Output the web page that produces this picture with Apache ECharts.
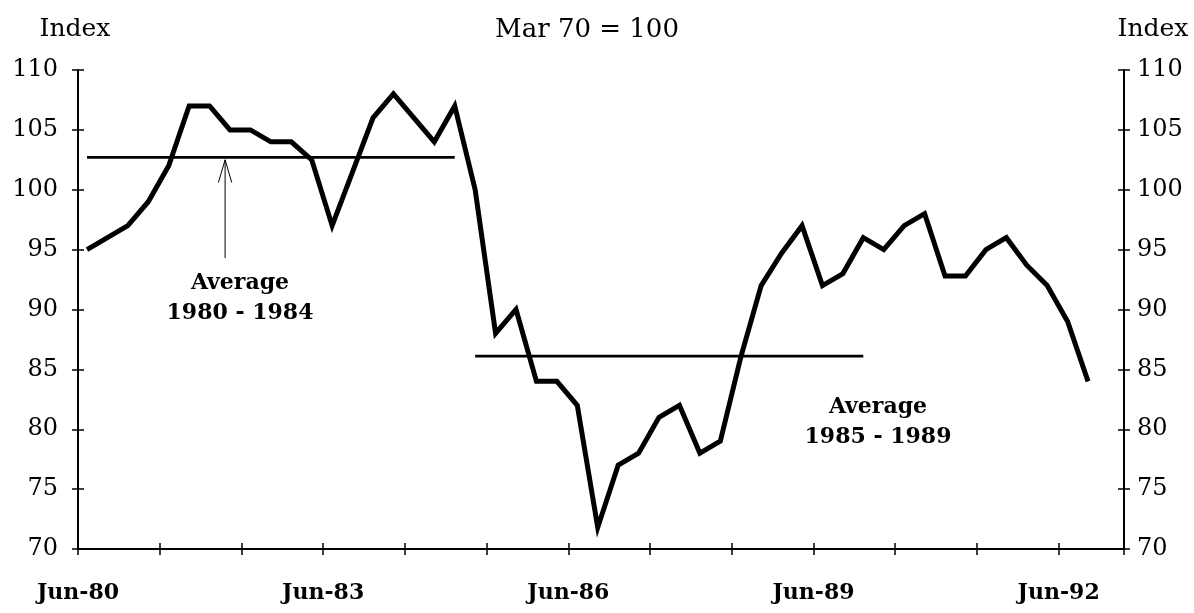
<!DOCTYPE html>
<html>
<head>
<meta charset="utf-8">
<title>Index, Mar 70 = 100</title>
<script src="https://cdn.jsdelivr.net/npm/echarts@6/dist/echarts.min.js"></script>
<style>
  html, body { margin: 0; padding: 0; background: #fff; }
  #chart { width: 1194px; height: 613px; }
</style>
</head>
<body>
<div id="chart"></div>
<script>
// quarterly index values, Jun-80 .. Sep-92
var quarters = [
  'Jun-80','Sep-80','Dec-80','Mar-81','Jun-81','Sep-81','Dec-81','Mar-82','Jun-82','Sep-82',
  'Dec-82','Mar-83','Jun-83','Sep-83','Dec-83','Mar-84','Jun-84','Sep-84','Dec-84','Mar-85',
  'Jun-85','Sep-85','Dec-85','Mar-86','Jun-86','Sep-86','Dec-86','Mar-87','Jun-87','Sep-87',
  'Dec-87','Mar-88','Jun-88','Sep-88','Dec-88','Mar-89','Jun-89','Sep-89','Dec-89','Mar-90',
  'Jun-90','Sep-90','Dec-90','Mar-91','Jun-91','Sep-91','Dec-91','Mar-92','Jun-92','Sep-92'
];
var indexValues = [
  95, 96, 97, 99, 102, 107, 107, 105, 105, 104,
  104, 102.5, 97, 101.5, 106, 108, 106, 104, 107, 100,
  88, 90, 84, 84, 82, 71.8, 77, 78, 81, 82,
  78, 79, 86, 92, 94.7, 97, 92, 93, 96, 95,
  97, 98, 92.8, 92.8, 95, 96, 93.7, 92, 89, 84
];
// yearly ticks, label every third year
var xTickLabels = ['Jun-80','','','Jun-83','','','Jun-86','','','Jun-89','','','Jun-92'];
var yTicks = [70, 75, 80, 85, 90, 95, 100, 105, 110];

// averages: [first quarter, last quarter, value]
var avg8084 = { from: 0, to: 18, value: 102.7 };
var avg8589 = { from: 19, to: 38, value: 86.1 };

// arrow pointing to the 1980-84 average
var arrowX = 1.8, arrowFrom = 94.3, arrowTo = 102.5;

var firstQuarterPos = 0.11; // years after the Jun-80 tick
function quarterPos(i) { return firstQuarterPos + i * 0.25; }

var FONT = 'DejaVu Serif';

var lineData = indexValues.map(function (v, i) { return [quarterPos(i), v]; });
function avgLine(a) {
  return [[quarterPos(a.from), a.value], [quarterPos(a.to), a.value]];
}

var chart = echarts.init(document.getElementById('chart'));

var xBase = {
  type: 'value', min: 0, max: 12.8, interval: 1,
  position: 'bottom',
  splitLine: { show: false }
};
var yBase = {
  type: 'value', min: yTicks[0], max: yTicks[yTicks.length - 1], interval: 5,
  splitLine: { show: false }
};
var tickStyle = { color: '#000', width: 1.5 };

var option = {
  backgroundColor: '#fff',
  animation: false,
  grid: { left: 78, right: 70, top: 70, bottom: 64, containLabel: false, outerBoundsMode: 'none' },
  title: [
    { text: 'Mar 70 = 100', left: 582, top: 12, textAlign: 'center',
      textStyle: { fontFamily: FONT, fontSize: 26, fontWeight: 'normal', color: '#000' } },
    { text: 'Index', left: 70, top: 12, textAlign: 'center',
      textStyle: { fontFamily: FONT, fontSize: 25, fontWeight: 'normal', color: '#000' } },
    { text: 'Index', left: 1148, top: 12, textAlign: 'center',
      textStyle: { fontFamily: FONT, fontSize: 25, fontWeight: 'normal', color: '#000' } }
  ],
  xAxis: [
    Object.assign({}, xBase, {
      axisLine: { show: true, onZero: false, lineStyle: { color: '#000', width: 2 } },
      axisTick: { show: true, inside: false, length: 6, lineStyle: tickStyle },
      axisLabel: {
        margin: 33, fontFamily: FONT, fontSize: 22, fontWeight: 'bold', color: '#000',
        formatter: function (v) {
          var k = Math.round(v);
          return Math.abs(v - k) < 1e-6 && xTickLabels[k] !== undefined ? xTickLabels[k] : '';
        }
      }
    }),
    Object.assign({}, xBase, {
      axisLine: { show: false, onZero: false },
      axisTick: { show: true, inside: true, length: 6, lineStyle: tickStyle },
      axisLabel: { show: false }
    })
  ],
  yAxis: [
    Object.assign({}, yBase, {
      position: 'left',
      axisLine: { show: true, onZero: false, lineStyle: { color: '#000', width: 2 } },
      axisTick: { show: true, inside: false, length: 6, lineStyle: tickStyle },
      axisLabel: { margin: 20, fontFamily: FONT, fontSize: 24, color: '#000' }
    }),
    Object.assign({}, yBase, {
      position: 'right',
      axisLine: { show: true, onZero: false, lineStyle: { color: '#000', width: 2 } },
      axisTick: { show: true, inside: false, length: 6, lineStyle: tickStyle },
      axisLabel: { margin: 13, fontFamily: FONT, fontSize: 24, color: '#000' }
    }),
    Object.assign({}, yBase, {
      position: 'left',
      axisLine: { show: false, onZero: false },
      axisTick: { show: true, inside: true, length: 6, lineStyle: tickStyle },
      axisLabel: { show: false }
    }),
    Object.assign({}, yBase, {
      position: 'right',
      axisLine: { show: false, onZero: false },
      axisTick: { show: true, inside: true, length: 6, lineStyle: tickStyle },
      axisLabel: { show: false }
    })
  ],
  graphic: [
    { type: 'text', x: 240, y: 298, style: {
        text: 'Average\n1980 - 1984', x: 0, y: 0, align: 'center', verticalAlign: 'middle',
        font: 'bold 22px "DejaVu Serif"', lineHeight: 30, fill: '#000' } },
    { type: 'text', x: 878, y: 422, style: {
        text: 'Average\n1985 - 1989', x: 0, y: 0, align: 'center', verticalAlign: 'middle',
        font: 'bold 22px "DejaVu Serif"', lineHeight: 30, fill: '#000' } }
  ],
  series: [
    {
      name: 'Index', type: 'line', data: lineData, showSymbol: false, symbol: 'none',
      lineStyle: { color: '#000', width: 5, join: 'miter' }, z: 5
    },
    {
      name: 'Average 1980-1984', type: 'line', data: avgLine(avg8084), symbol: 'none',
      lineStyle: { color: '#000', width: 2.8 }
    },
    {
      name: 'Average 1985-1989', type: 'line', data: avgLine(avg8589), symbol: 'none',
      lineStyle: { color: '#000', width: 2.8 }
    },
    {
      name: 'arrow', type: 'line', symbol: 'none',
      data: [[arrowX, arrowFrom], [arrowX, arrowTo]],
      lineStyle: { color: '#000', width: 1 }
    },
    {
      name: 'arrowhead', type: 'line', symbol: 'none',
      data: [[arrowX - 0.082, arrowTo - 1.9], [arrowX, arrowTo], [arrowX + 0.082, arrowTo - 1.9]],
      lineStyle: { color: '#000', width: 1 }
    }
  ]
};

chart.setOption(option);
</script>
</body>
</html>
